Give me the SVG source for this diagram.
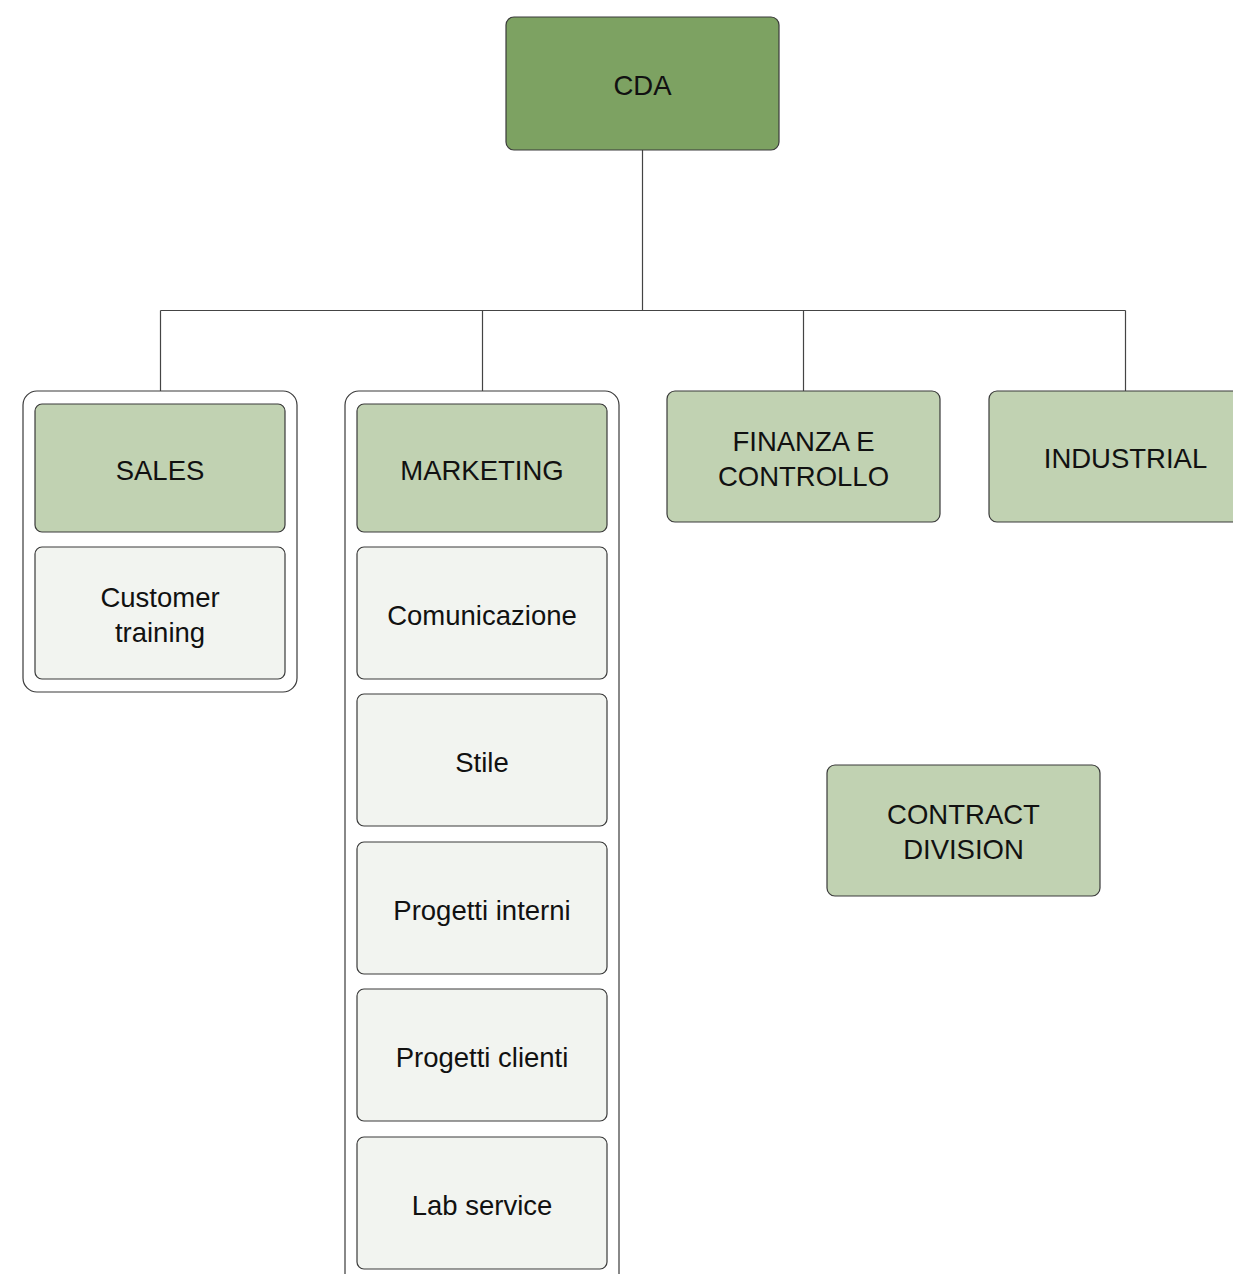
<svg xmlns="http://www.w3.org/2000/svg" width="1233" height="1274" viewBox="0 0 1233 1274">
<style>
.box{stroke:#3a3a3a;stroke-width:1.2}
.dark{fill:#7da262}
.mid{fill:#c1d2b2}
.light{fill:#f2f4f0}
.cont{fill:#ffffff;stroke:#3a3a3a;stroke-width:1.2}
.t{font-family:"Liberation Sans",Arial,sans-serif;font-size:27.5px;fill:#111;text-anchor:middle;dominant-baseline:central}
.conn{stroke:#444;stroke-width:1.2;fill:none}
</style>
<rect width="1233" height="1274" fill="#ffffff"/>
<g id="connectors">
<path class="conn" d="M642.5 150V310.5M160.5 310.5H1125.5M160.5 310.5V391M482.5 310.5V391M803.5 310.5V391M1125.5 310.5V391"/>
</g>
<g id="cda">
<rect class="box dark" x="506" y="17" width="273" height="133" rx="8"/>
<text class="t" x="642.5" y="85">CDA</text>
</g>
<g id="sales-group">
<rect class="cont" x="23" y="391" width="274" height="301" rx="14"/>
</g>
<g id="sales">
<rect class="box mid" x="35" y="404" width="250" height="128" rx="7"/>
<text class="t" x="160" y="470">SALES</text>
</g>
<g id="customer-training">
<rect class="box light" x="35" y="547" width="250" height="132" rx="7"/>
<text class="t" x="160" y="597">Customer</text>
<text class="t" x="160" y="632">training</text>
</g>
<g id="marketing-group">
<rect class="cont" x="345" y="391" width="274" height="900" rx="14"/>
</g>
<g id="marketing">
<rect class="box mid" x="357" y="404" width="250" height="128" rx="7"/>
<text class="t" x="482" y="470">MARKETING</text>
</g>
<g id="comunicazione">
<rect class="box light" x="357" y="547" width="250" height="132" rx="7"/>
<text class="t" x="482" y="615">Comunicazione</text>
</g>
<g id="stile">
<rect class="box light" x="357" y="694" width="250" height="132" rx="7"/>
<text class="t" x="482" y="762">Stile</text>
</g>
<g id="progetti-interni">
<rect class="box light" x="357" y="842" width="250" height="132" rx="7"/>
<text class="t" x="482" y="910">Progetti interni</text>
</g>
<g id="progetti-clienti">
<rect class="box light" x="357" y="989" width="250" height="132" rx="7"/>
<text class="t" x="482" y="1057">Progetti clienti</text>
</g>
<g id="lab-service">
<rect class="box light" x="357" y="1137" width="250" height="132" rx="7"/>
<text class="t" x="482" y="1205">Lab service</text>
</g>
<g id="finanza">
<rect class="box mid" x="667" y="391" width="273" height="131" rx="8"/>
<text class="t" x="803.5" y="441">FINANZA E</text>
<text class="t" x="803.5" y="476">CONTROLLO</text>
</g>
<g id="industrial">
<rect class="box mid" x="989" y="391" width="273" height="131" rx="8"/>
<text class="t" x="1125.5" y="458">INDUSTRIAL</text>
</g>
<g id="contract-division">
<rect class="box mid" x="827" y="765" width="273" height="131" rx="8"/>
<text class="t" x="963.5" y="814">CONTRACT</text>
<text class="t" x="963.5" y="849">DIVISION</text>
</g>
</svg>
